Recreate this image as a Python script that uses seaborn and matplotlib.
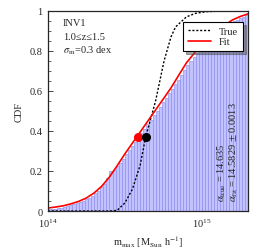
import numpy as np
import pandas as pd
import matplotlib
matplotlib.use("Agg")
import matplotlib.pyplot as plt
import seaborn as sns
from matplotlib.ticker import MultipleLocator, LogLocator, NullFormatter

# ---- data ----
# histogram: CDF per bin, bins of 0.02 dex from log10(m)=14.00 to 15.30
bin_lo = 14.0
bin_hi = 15.3
hist_cdf = [0.008, 0.010, 0.012, 0.014, 0.017, 0.020, 0.024, 0.028, 0.033, 0.038,
            0.044, 0.050, 0.058, 0.066, 0.076, 0.088, 0.100, 0.118, 0.135, 0.165,
            0.200, 0.205, 0.225, 0.240, 0.262, 0.285, 0.305, 0.325, 0.345, 0.368,
            0.392, 0.412, 0.435, 0.455, 0.478, 0.500, 0.520, 0.545, 0.565, 0.590,
            0.612, 0.635, 0.655, 0.680, 0.705, 0.728, 0.750, 0.770, 0.790, 0.808,
            0.825, 0.840, 0.855, 0.868, 0.882, 0.895, 0.905, 0.918, 0.930, 0.940,
            0.948, 0.955, 0.962, 0.970, 0.978]

# fit curve (red)
fit_logm = [14.00, 14.05, 14.10, 14.15, 14.20, 14.25, 14.30, 14.35, 14.40, 14.45,
            14.50, 14.55, 14.60, 14.65, 14.70, 14.75, 14.80, 14.85, 14.90, 14.95,
            15.00, 15.05, 15.10, 15.15, 15.20, 15.25, 15.30]
fit_cdf = [0.015, 0.020, 0.026, 0.036, 0.048, 0.065, 0.090, 0.124, 0.170, 0.226,
           0.285, 0.340, 0.395, 0.450, 0.505, 0.560, 0.615, 0.678, 0.740, 0.787,
           0.830, 0.866, 0.900, 0.929, 0.955, 0.972, 0.985]

# true curve (black dotted)
true_logm = [14.00, 14.40, 14.45, 14.50, 14.55, 14.60, 14.635, 14.70, 14.755,
             14.80, 14.83, 14.90, 14.96, 15.03, 15.15, 15.30]
true_cdf = [0.000, 0.000, 0.003, 0.040, 0.110, 0.230, 0.368, 0.550, 0.750,
            0.870, 0.920, 0.970, 0.988, 0.996, 1.000, 1.000]

alpha_true = 14.635
alpha_fit = 14.5829
alpha_fit_err = 0.0013
cdf_at_alpha = 0.368

info_lines = ["INV1", "1.0\u2264z\u22641.5", r"$\sigma_{\rm m}$=0.3 dex"]

# ---- figure ----
sns.set_style("ticks")
plt.rcParams["font.family"] = ["Liberation Serif", "DejaVu Serif"]
plt.rcParams["mathtext.fontset"] = "stix"
plt.rcParams["font.size"] = 7.5

fig = plt.figure(figsize=(2.66, 2.53), dpi=100)
ax = fig.add_axes([0.180, 0.162, 0.752, 0.791])

nb = len(hist_cdf)
w = (bin_hi - bin_lo) / nb
centers = [10 ** (bin_lo + w * (i + 0.5)) for i in range(nb)]
hdf = pd.DataFrame({"m": centers, "cdf": hist_cdf})
sns.histplot(data=hdf, x="m", weights="cdf", bins=nb, binrange=(bin_lo, bin_hi),
             log_scale=True, stat="count", ax=ax, color="#c2c2ff",
             edgecolor="#8c8cf0", linewidth=0.45, alpha=1.0)

tdf = pd.DataFrame({"m": [10 ** v for v in true_logm], "cdf": true_cdf})
fdf = pd.DataFrame({"m": [10 ** v for v in fit_logm], "cdf": fit_cdf})
sns.lineplot(data=tdf, x="m", y="cdf", ax=ax, color="black", linestyle=(0, (1.5, 1.3)),
             linewidth=1.0, label="True")
sns.lineplot(data=fdf, x="m", y="cdf", ax=ax, color="red", linewidth=1.2, label="Fit")

ax.plot([10 ** alpha_fit], [cdf_at_alpha], "o", color="red", ms=5.5, zorder=5)
ax.plot([10 ** alpha_true], [cdf_at_alpha], "o", color="black", ms=5.5, zorder=5)

ax.set_xscale("log")
ax.set_xlim(10 ** 14, 10 ** 15.3)
ax.set_ylim(0, 1)
ax.xaxis.set_minor_locator(LogLocator(base=10, subs=np.arange(2, 10)))
ax.xaxis.set_minor_formatter(NullFormatter())
ax.set_yticks([0, 0.2, 0.4, 0.6, 0.8, 1.0])
ax.set_yticklabels(["0", "0.2", "0.4", "0.6", "0.8", "1"])
ax.yaxis.set_minor_locator(MultipleLocator(0.05))
ax.tick_params(which="both", direction="in", top=False, right=False)
ax.tick_params(which="major", length=3.5, width=0.6, pad=4)
ax.tick_params(which="minor", length=2, width=0.5)
for s in ax.spines.values():
    s.set_linewidth(0.9)

ax.set_xlabel(r"m$_{\rm max}$ [M$_{\rm Sun}$ h$^{-1}$]", labelpad=3)
ax.set_ylabel("CDF", labelpad=4)

for i, t in enumerate(info_lines):
    ax.text(0.075, 0.94 - i * 0.067, t, transform=ax.transAxes, ha="left", va="center")

ax.text(0.87, 0.05, r"$\alpha_{\rm true}$ = %.3f" % alpha_true, transform=ax.transAxes,
        rotation=90, ha="center", va="bottom")
ax.text(0.93, 0.05, r"$\alpha_{\rm fit}$ = %.4f $\pm$ %.4f" % (alpha_fit, alpha_fit_err),
        transform=ax.transAxes, rotation=90, ha="center", va="bottom")

leg = ax.legend(loc="upper right", bbox_to_anchor=(0.985, 0.955), frameon=True,
                fancybox=False, shadow=True, edgecolor="black", framealpha=1,
                handlelength=2.2, borderpad=0.45, labelspacing=0.1, handletextpad=0.8,
                borderaxespad=0.2)
leg.get_frame().set_linewidth(0.8)

fig.savefig("out.png", dpi=100)
